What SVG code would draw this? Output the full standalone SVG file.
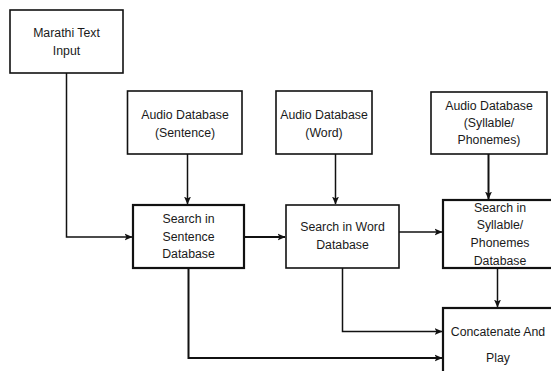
<svg xmlns="http://www.w3.org/2000/svg" width="551" height="371" viewBox="0 0 551 371">
  <defs>
    <marker id="arrow" viewBox="0 0 8 8" refX="7.5" refY="4" markerWidth="8" markerHeight="8" markerUnits="userSpaceOnUse" orient="auto">
      <path d="M0,0.5 L8,4 L0,7.5 L2,4 Z" fill="#111"/>
    </marker>
    <style>
      .box { fill: #fff; stroke: #111; stroke-width: 1.6; }
      .thick { stroke-width: 2.2; }
      .lbl { font-family: "Liberation Sans", Arial, sans-serif; font-size: 12.3px; fill: #1a1a1a; text-anchor: middle; }
      .wire { fill: none; stroke: #111; stroke-width: 1.5; marker-end: url(#arrow); }
    </style>
  </defs>
  <rect width="551" height="371" fill="#fff"/>

  <g id="connectors">
    <polyline class="wire" points="66.5,73 66.5,237 132,237"/>
    <polyline class="wire" points="187.5,154 187.5,204"/>
    <polyline class="wire" points="335.5,154 335.5,204"/>
    <polyline class="wire" style="stroke-width:2" points="488.5,154 488.5,199"/>
    <polyline class="wire" style="stroke-width:2" points="244,237 285,237"/>
    <polyline class="wire" points="399,232 442,232"/>
    <polyline class="wire" points="497.5,268 497.5,307"/>
    <polyline class="wire" points="342.5,268 342.5,331.5 442,331.5"/>
    <polyline class="wire" style="stroke-width:2" points="188.5,268 188.5,358 442,358"/>
  </g>

  <g id="marathi-input">
    <rect class="box" x="10" y="10" width="113" height="63"/>
    <text class="lbl" x="66.5" y="37">Marathi Text</text>
    <text class="lbl" x="66.5" y="55">Input</text>
  </g>

  <g id="audio-sentence">
    <rect class="box" x="127.5" y="91" width="114.5" height="63"/>
    <text class="lbl" x="185" y="119">Audio Database</text>
    <text class="lbl" x="185" y="137">(Sentence)</text>
  </g>

  <g id="audio-word">
    <rect class="box" x="276" y="91" width="96" height="63"/>
    <text class="lbl" x="324" y="119">Audio Database</text>
    <text class="lbl" x="324" y="137">(Word)</text>
  </g>

  <g id="audio-syllable">
    <rect class="box" x="431" y="92" width="116" height="62"/>
    <text class="lbl" x="489" y="110">Audio Database</text>
    <text class="lbl" x="489" y="127">(Syllable/</text>
    <text class="lbl" x="489" y="144">Phonemes)</text>
  </g>

  <g id="search-sentence">
    <rect class="box thick" x="133" y="205" width="111" height="63"/>
    <text class="lbl" x="188.5" y="223">Search in</text>
    <text class="lbl" x="188.5" y="241">Sentence</text>
    <text class="lbl" x="188.5" y="258">Database</text>
  </g>

  <g id="search-word">
    <rect class="box" x="286" y="205" width="113" height="63"/>
    <text class="lbl" x="342.5" y="231">Search in Word</text>
    <text class="lbl" x="342.5" y="249">Database</text>
  </g>

  <g id="search-syllable">
    <rect class="box thick" x="443" y="200" width="112" height="68"/>
    <text class="lbl" x="500" y="212">Search in</text>
    <text class="lbl" x="500" y="229">Syllable/</text>
    <text class="lbl" x="500" y="247">Phonemes</text>
    <text class="lbl" x="500" y="265">Database</text>
  </g>

  <g id="concatenate-play">
    <rect class="box thick" x="443" y="308" width="112" height="70"/>
    <text class="lbl" x="498" y="336">Concatenate And</text>
    <text class="lbl" x="498" y="362">Play</text>
  </g>
</svg>
